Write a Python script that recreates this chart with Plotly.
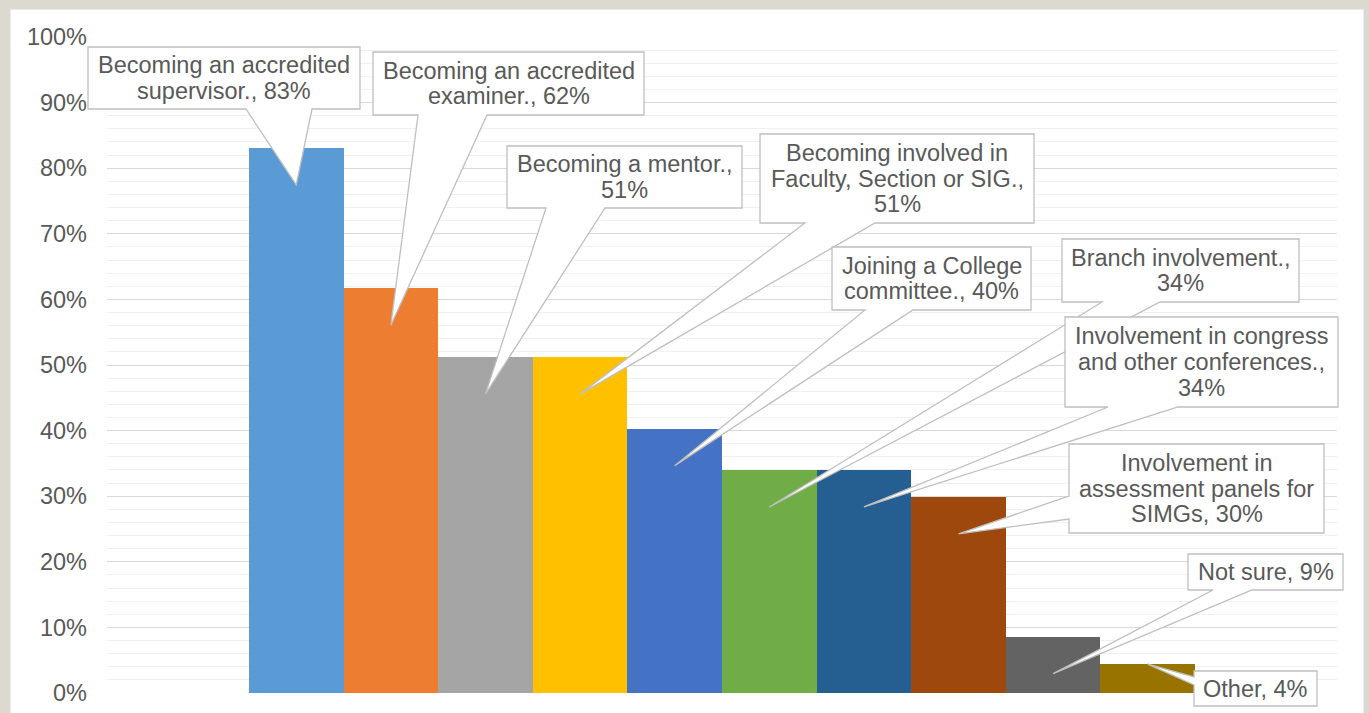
import textwrap
import plotly.graph_objects as go

# ---------------- data ----------------
categories = [
    "Becoming an accredited supervisor.",
    "Becoming an accredited examiner.",
    "Becoming a mentor.",
    "Becoming involved in Faculty, Section or SIG.",
    "Joining a College committee.",
    "Branch involvement.",
    "Involvement in congress and other conferences.",
    "Involvement in assessment panels for SIMGs",
    "Not sure",
    "Other",
]
values = [0.831, 0.617, 0.512, 0.512, 0.403, 0.340, 0.340, 0.299, 0.086, 0.044]
colors = ["#5B9BD5", "#ED7D31", "#A5A5A5", "#FFC000", "#4472C4",
          "#70AD47", "#255E91", "#9E480E", "#636363", "#997300"]
tick_values = [0.0, 0.1, 0.2, 0.3, 0.4, 0.5, 0.6, 0.7, 0.8, 0.9, 1.0]
tick_labels = ["0%", "10%", "20%", "30%", "40%", "50%", "60%", "70%", "80%", "90%", "100%"]

# ---------------- layout helpers ----------------
W, H = 1369, 713
L, R, T, B = 107, 32, 37, 20
PW, PH = W - L - R, H - T - B
X_RANGE = [-2, 11]


def fx(px):
    return (px - L) / PW


def fy(py):
    return (H - B - py) / PH


def cat_to_paper(i):
    return (i - X_RANGE[0]) / (X_RANGE[1] - X_RANGE[0])


TEXT_COLOR = "#595959"
FONT = "Liberation Sans, Arial, sans-serif"
FS = 23.5
LINE_GAP = 25.7  # px between text lines inside a callout

# callout boxes (pixel layout): box, side of pointer, pointer base, wrap width
callout_layout = [
    ((88, 47, 360, 109), "bottom", (246, 312), 22),
    ((373, 52, 644, 115), "bottom", (418, 487), 22),
    ((507, 146, 742, 208), "bottom", (546, 605), 19),
    ((760, 134, 1034, 223), "bottom", (805, 875), 25),
    ((832, 247, 1031, 310), "bottom", (865, 913), 17),
    ((1062, 239, 1299, 302), "bottom", (1102, 1160), 20),
    ((1065, 317, 1338, 407), "bottom", (1108, 1178), 23),
    ((1069, 444, 1324, 533), "left", (496, 519), 21),
    ((1188, 554, 1343, 590), "bottom", (1213, 1252), 14),
    ((1194, 671, 1317, 706), "left", (677, 685), 14),
]

fig = go.Figure()
fig.add_trace(go.Bar(
    x=categories,
    y=values,
    marker=dict(color=colors, line=dict(width=0)),
    hoverinfo="skip",
    showlegend=False,
))

shapes = [
    dict(type="rect", xref="paper", yref="paper",
         x0=fx(10), x1=fx(1364), y0=fy(730), y1=fy(9),
         fillcolor="white", line=dict(color="#d9d9d9", width=1), layer="below"),
]
annotations = []

TIP_DROP = 37 / PH
for i, (cat, v, (box, side, base, wrapw)) in enumerate(zip(categories, values, callout_layout)):
    x0, y0, x1, y1 = box
    tx = cat_to_paper(i)
    ty = v - TIP_DROP if v - TIP_DROP > 0.02 else v
    b1, b2 = base
    if side == "bottom":
        pts = [(fx(x0), fy(y0)), (fx(x1), fy(y0)), (fx(x1), fy(y1)), (fx(b2), fy(y1)),
               (tx, ty), (fx(b1), fy(y1)), (fx(x0), fy(y1))]
    else:
        pts = [(fx(x0), fy(y0)), (fx(x1), fy(y0)), (fx(x1), fy(y1)), (fx(x0), fy(y1)),
               (fx(x0), fy(b2)), (tx, ty), (fx(x0), fy(b1))]
    path = "M " + " L ".join(f"{a:.5f},{b:.5f}" for a, b in pts) + " Z"
    shapes.append(dict(type="path", xref="paper", yref="paper", path=path,
                       fillcolor="white", line=dict(color="#bfbfbf", width=1.3),
                       layer="above"))
    label = f"{cat}, {int(v * 100 + 0.5)}%"
    lines = textwrap.wrap(label, wrapw)
    cy = (y0 + y1) / 2
    n = len(lines)
    for k, line in enumerate(lines):
        ly = cy + (k - (n - 1) / 2) * LINE_GAP
        annotations.append(dict(
            xref="paper", yref="paper",
            x=fx((x0 + x1) / 2), y=fy(ly),
            xanchor="center", yanchor="middle",
            text=line, showarrow=False, align="center",
            font=dict(family=FONT, size=FS, color=TEXT_COLOR),
        ))

fig.update_layout(
    width=W, height=H,
    margin=dict(l=L, r=R, t=T, b=B, pad=0, autoexpand=False),
    paper_bgcolor="#dcd9cf",
    plot_bgcolor="white",
    bargap=0,
    shapes=shapes,
    annotations=annotations,
    font=dict(family=FONT, size=FS, color=TEXT_COLOR),
    xaxis=dict(type="category", range=X_RANGE, showticklabels=False, automargin=False,
               showgrid=False, zeroline=False, showline=False, ticks=""),
    yaxis=dict(range=[0, 1], tickvals=tick_values, ticktext=tick_labels, automargin=False,
               showgrid=True, gridcolor="#d9d9d9", gridwidth=1.3,
               zeroline=False, showline=False, ticks="",
               ticklabelstandoff=19,
               tickfont=dict(family=FONT, size=FS, color=TEXT_COLOR),
               minor=dict(dtick=0.02, showgrid=True, gridcolor="#f0f0f0", gridwidth=1.3)),
)

fig.write_html("out.html", config={"displayModeBar": False},
               post_script="document.body.style.margin='0';")
